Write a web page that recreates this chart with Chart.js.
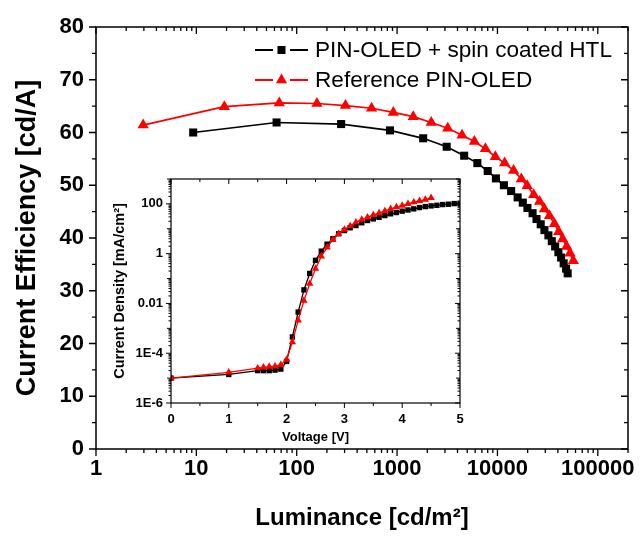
<!DOCTYPE html>
<html>
<head>
<meta charset="utf-8">
<script src="https://cdn.jsdelivr.net/npm/chart.js@4.4.0/dist/chart.umd.min.js"></script>
<style>
  html, body { margin: 0; padding: 0; background: #fff; }
  #wrap { position: relative; width: 641px; height: 537px; }
  #main { position: absolute; left: 0; top: 0; }
  #inset { position: absolute; left: 95px; top: 160px; }
</style>
</head>
<body>
<div id="wrap">
  <canvas id="main" width="641" height="537"></canvas>
  <canvas id="inset" width="375" height="290"></canvas>
</div>
<script>
// main plot: current efficiency vs luminance
const lumHTL = [9.3, 63, 277, 850, 1820, 3120, 4660, 6310, 8000, 9660, 11600, 13700, 15900, 17900, 19900,
                22400, 24500, 27000, 29400, 32200, 34800, 37600, 40500, 43100, 45700, 48300, 50100];
const effHTL = [60.0, 61.9, 61.6, 60.4, 58.9, 57.3, 55.6, 54.2, 52.7, 51.3, 50.0, 48.9, 47.7, 46.7, 45.7,
                44.7, 43.6, 42.6, 41.5, 40.5, 39.4, 38.4, 37.3, 36.3, 35.2, 34.2, 33.3];
const lumRef = [2.95, 19.0, 67, 159, 306, 557, 917, 1450, 2190, 3200, 4440, 5900, 7590, 9530, 11800,
                14500, 17300, 19800, 23000, 26300, 29400, 33000, 37000, 40800, 44700, 49000, 52900, 57100];
const effRef = [61.4, 64.9, 65.6, 65.5, 65.1, 64.6, 63.8, 63.0, 61.9, 60.8, 59.5, 58.3, 56.9, 55.4, 54.2,
                52.8, 51.2, 49.9, 48.2, 46.9, 45.5, 44.2, 42.7, 41.2, 39.8, 38.4, 37.1, 35.7];

// inset: current density vs voltage
const voltHTL = [0, 1.0, 1.5, 1.6, 1.7, 1.8, 1.9, 2.0, 2.1, 2.2, 2.3, 2.4, 2.5, 2.6, 2.7, 2.8, 2.9,
                 3.0, 3.1, 3.2, 3.3, 3.4, 3.5, 3.6, 3.7, 3.8, 3.9, 4.0, 4.1, 4.2, 4.3, 4.4, 4.5,
                 4.6, 4.7, 4.8, 4.9, 5.0];
const jHTL = [1.0e-5, 1.4e-5, 2.0e-5, 2.0e-5, 2.0e-5, 2.1e-5, 2.3e-5, 4.7e-5, 4.5e-4, 4.5e-3, 0.035,
              0.16, 0.54, 1.26, 2.4, 4.0, 6.3, 8.5, 11, 13.5, 17.4, 21.5, 25, 29, 34, 40, 45, 51,
              57, 63, 71, 78, 83, 88, 94, 97, 103, 106];
const voltRef = [0, 1.0, 1.5, 1.6, 1.7, 1.8, 1.9, 2.0, 2.1, 2.2, 2.3, 2.4, 2.5, 2.6, 2.7, 2.8, 2.9,
                 3.0, 3.1, 3.2, 3.3, 3.4, 3.5, 3.6, 3.7, 3.8, 3.9, 4.0, 4.1, 4.2, 4.3, 4.4, 4.5];
const jRef = [1.0e-5, 1.7e-5, 2.5e-5, 2.7e-5, 2.9e-5, 3.0e-5, 3.4e-5, 5.6e-5, 2.8e-4, 2.1e-3, 0.013,
              0.062, 0.25, 0.78, 1.8, 3.6, 6.3, 9.3, 13, 18, 23.5, 29, 36, 43, 52, 63, 74, 86,
              100, 117, 132, 149, 174];

const lumTicks = [1, 10, 100, 1000, 10000, 100000];
const effTicks = [0, 10, 20, 30, 40, 50, 60, 70, 80];
const voltTicks = [0, 1, 2, 3, 4, 5];
const jTicks = [1e-6, 1e-4, 0.01, 1, 100];
const jTickLabels = ['1E-6', '1E-4', '0.01', '1', '100'];
const seriesNames = ['PIN-OLED + spin coated HTL', 'Reference PIN-OLED'];

const FONT = "'Liberation Sans', Arial, Helvetica, sans-serif";

const pairs = (xs, ys) => xs.map((v, i) => ({x: v, y: ys[i]}));

// frame box plus tick marks on all four sides (outer ticks at left/bottom, inner at top/right)
function framePlugin(cfg) {
  return {
    id: 'frame',
    afterDraw(chart) {
      const {ctx, chartArea: a} = chart;
      const sx = chart.scales.x, sy = chart.scales.y;
      ctx.save();
      ctx.strokeStyle = '#000';
      ctx.lineWidth = cfg.lw;
      ctx.strokeRect(a.left, a.top, a.right - a.left, a.bottom - a.top);
      ctx.lineWidth = cfg.tw;
      ctx.beginPath();
      cfg.xt.forEach(([v, len]) => {
        const p = sx.getPixelForValue(v);
        ctx.moveTo(p, a.bottom); ctx.lineTo(p, a.bottom + len);
        ctx.moveTo(p, a.top); ctx.lineTo(p, a.top + len);
      });
      cfg.yt.forEach(([v, len]) => {
        const p = sy.getPixelForValue(v);
        ctx.moveTo(a.left, p); ctx.lineTo(a.left - len, p);
        ctx.moveTo(a.right, p); ctx.lineTo(a.right - len, p);
      });
      ctx.stroke();
      ctx.restore();
    }
  };
}

function noPad(s) {
  s.paddingLeft = 0; s.paddingRight = 0; s.paddingTop = 0; s.paddingBottom = 0;
}

// ---------- main chart ----------
const mainXT = [];
lumTicks.forEach(d => {
  mainXT.push([d, 7]);
  for (let m = 2; m <= 9; m++) if (d * m <= 200000) mainXT.push([d * m, 4]);
});
const mainYT = [];
effTicks.forEach(v => {
  mainYT.push([v, 7]);
  if (v < 80) mainYT.push([v + 5, 4]);
});

const legendPlugin = {
  id: 'insideLegend',
  afterDraw(chart) {
    const ctx = chart.ctx;
    const rows = [50, 80];
    ctx.save();
    chart.data.datasets.forEach((ds, i) => {
      const y = rows[i];
      ctx.strokeStyle = ds.borderColor;
      ctx.fillStyle = ds.borderColor;
      ctx.lineWidth = 1.8;
      ctx.beginPath();
      ctx.moveTo(255, y); ctx.lineTo(273, y);
      ctx.moveTo(290, y); ctx.lineTo(308, y);
      ctx.stroke();
      ctx.beginPath();
      if (ds.pointStyle === 'rect') {
        ctx.rect(281.5 - 4, y - 4, 8, 8);
      } else {
        ctx.moveTo(281.5, y - 6.5);
        ctx.lineTo(281.5 + 5.6, y + 3.2);
        ctx.lineTo(281.5 - 5.6, y + 3.2);
        ctx.closePath();
      }
      ctx.fill();
      ctx.fillStyle = '#000';
      ctx.font = '22.6px ' + FONT;
      ctx.textBaseline = 'middle';
      ctx.textAlign = 'left';
      ctx.fillText(seriesNames[i], 315, y + 1);
    });
    ctx.restore();
  }
};

new Chart(document.getElementById('main'), {
  type: 'scatter',
  data: {
    datasets: [
      {
        label: seriesNames[0],
        data: pairs(lumHTL, effHTL),
        showLine: true,
        borderColor: '#000000',
        backgroundColor: '#000000',
        borderWidth: 1.7,
        pointStyle: 'rect',
        pointRadius: 5.7,
        pointBorderWidth: 0,
        order: 1
      },
      {
        label: seriesNames[1],
        data: pairs(lumRef, effRef),
        showLine: true,
        borderColor: '#ff0000',
        backgroundColor: '#ff0000',
        borderWidth: 1.7,
        pointStyle: 'triangle',
        pointRadius: 6.5,
        pointBorderWidth: 0,
        order: 0
      }
    ]
  },
  options: {
    responsive: false,
    animation: false,
    layout: { padding: { top: 27, right: 13, left: 0, bottom: 0 } },
    plugins: { legend: { display: false }, tooltip: { enabled: false } },
    scales: {
      x: {
        type: 'logarithmic',
        min: 1,
        max: 200000,
        afterBuildTicks: s => { s.ticks = lumTicks.map(v => ({value: v})); },
        afterFit: s => { s.height = 88; noPad(s); },
        ticks: {
          autoSkip: false, maxRotation: 0, padding: 7, color: '#000',
          font: { family: FONT, size: 22, weight: 'bold' },
          callback: v => String(v)
        },
        grid: { display: false, drawTicks: false },
        border: { display: false },
        title: {
          display: true, text: 'Luminance [cd/m²]', color: '#000',
          font: { family: FONT, size: 24, weight: 'bold' },
          padding: { top: 0, bottom: 4 }
        }
      },
      y: {
        type: 'linear',
        min: 0,
        max: 80,
        afterBuildTicks: s => { s.ticks = effTicks.map(v => ({value: v})); },
        afterFit: s => { s.width = 96; noPad(s); },
        ticks: {
          padding: 12, color: '#000',
          font: { family: FONT, size: 22, weight: 'bold' }
        },
        grid: { display: false, drawTicks: false },
        border: { display: false },
        title: {
          display: true, text: 'Current Efficiency [cd/A]', color: '#000',
          font: { family: FONT, size: 27, weight: 'bold' },
          padding: { top: 11, bottom: 0 }
        }
      }
    }
  },
  plugins: [framePlugin({ lw: 1.5, tw: 1.3, xt: mainXT, yt: mainYT }), legendPlugin]
});

// ---------- inset chart ----------
const insetXT = [];
voltTicks.forEach(v => {
  insetXT.push([v, 5]);
  if (v < 5) insetXT.push([v + 0.5, 3]);
});
const insetYT = [];
for (let e = -6; e <= 3; e++) {
  const d = Math.pow(10, e);
  insetYT.push([d, e % 2 === 0 ? 5 : 4]);
  if (e < 3) for (let m = 2; m <= 9; m++) insetYT.push([d * m, 2.5]);
}

new Chart(document.getElementById('inset'), {
  type: 'scatter',
  data: {
    datasets: [
      {
        label: seriesNames[0],
        data: pairs(voltHTL, jHTL),
        showLine: true,
        borderColor: '#000000',
        backgroundColor: '#000000',
        borderWidth: 1.3,
        pointStyle: 'rect',
        pointRadius: 3.8,
        pointBorderWidth: 0,
        order: 1
      },
      {
        label: seriesNames[1],
        data: pairs(voltRef, jRef),
        showLine: true,
        borderColor: '#ff0000',
        backgroundColor: '#ff0000',
        borderWidth: 1.3,
        pointStyle: 'triangle',
        pointRadius: 4.3,
        pointBorderWidth: 0,
        order: 0
      }
    ]
  },
  options: {
    responsive: false,
    animation: false,
    layout: { padding: { top: 19, right: 10, left: 0, bottom: 0 } },
    plugins: { legend: { display: false }, tooltip: { enabled: false } },
    scales: {
      x: {
        type: 'linear',
        min: 0,
        max: 5,
        afterBuildTicks: s => { s.ticks = voltTicks.map(v => ({value: v})); },
        afterFit: s => { s.height = 47; noPad(s); },
        ticks: {
          autoSkip: false, maxRotation: 0, padding: 9, color: '#000',
          font: { family: FONT, size: 13, weight: 'bold' }
        },
        grid: { display: false, drawTicks: false },
        border: { display: false },
        title: {
          display: true, text: 'Voltage [V]', color: '#000',
          font: { family: FONT, size: 13, weight: 'bold' },
          padding: { top: 0, bottom: 5 }
        }
      },
      y: {
        type: 'logarithmic',
        min: 1e-6,
        max: 1000,
        afterBuildTicks: s => { s.ticks = jTicks.map(v => ({value: v})); },
        afterFit: s => { s.width = 76; noPad(s); },
        ticks: {
          padding: 8, color: '#000',
          font: { family: FONT, size: 13, weight: 'bold' },
          callback: (v, i) => jTickLabels[i]
        },
        grid: { display: false, drawTicks: false },
        border: { display: false },
        title: {
          display: true, text: 'Current Density [mA/cm²]', color: '#000',
          font: { family: FONT, size: 14.5, weight: 'bold' },
          padding: { top: 16, bottom: 0 }
        }
      }
    }
  },
  plugins: [framePlugin({ lw: 1.2, tw: 1, xt: insetXT, yt: insetYT })]
});
</script>
</body>
</html>
